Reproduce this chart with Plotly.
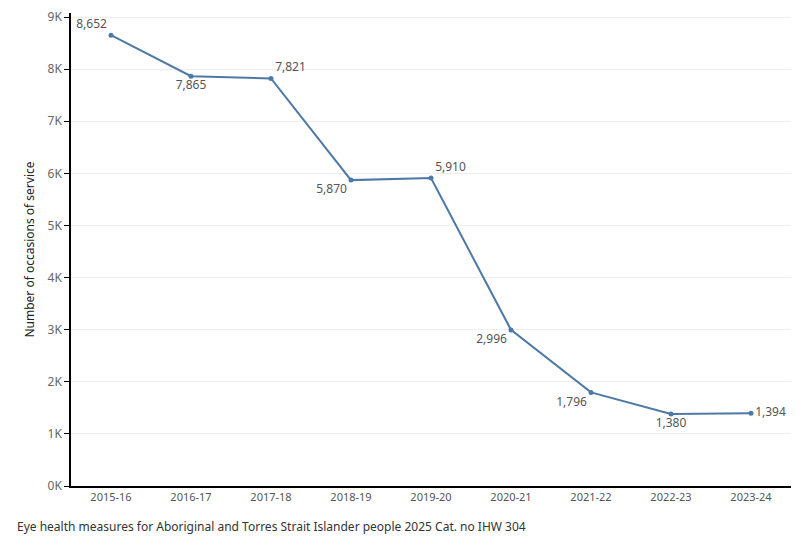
import plotly.graph_objects as go

years = ["2015-16", "2016-17", "2017-18", "2018-19", "2019-20",
         "2020-21", "2021-22", "2022-23", "2023-24"]
occasions = [8652, 7865, 7821, 5870, 5910, 2996, 1796, 1380, 1394]
label_pos = ["top left", "bottom center", "top right", "bottom left", "top right",
             "bottom left", "bottom left", "bottom center", "middle right"]
y_ticks = [0, 1000, 2000, 3000, 4000, 5000, 6000, 7000, 8000, 9000]
y_tick_text = ["0K", "1K", "2K", "3K", "4K", "5K", "6K", "7K", "8K", "9K"]

FONT = "Noto Sans"

fig = go.Figure()
fig.add_trace(go.Scatter(
    x=years, y=occasions,
    mode="lines+markers+text",
    line=dict(color="#4e79a7", width=2),
    marker=dict(color="#4e79a7", size=5),
    text=[f"{v:,}" for v in occasions],
    textposition=label_pos,
    textfont=dict(family=FONT, size=12, color="#555555"),
    hoverinfo="x+y",
    cliponaxis=False,
))

fig.update_layout(
    width=800, height=550,
    margin=dict(l=71, r=9, t=13, b=64),
    plot_bgcolor="white", paper_bgcolor="white",
    showlegend=False,
    font=dict(family=FONT, size=12, color="#666666"),
    xaxis=dict(
        type="category",
        showline=True, linecolor="black", linewidth=1.5,
        showgrid=False,
        ticks="", tickfont=dict(size=11, color="#555555"),
        range=[-0.5, 8.5],
    ),
    yaxis=dict(
        range=[0, 9077],
        tickvals=y_ticks, ticktext=y_tick_text,
        showline=True, linecolor="black", linewidth=1.5,
        showgrid=True, gridcolor="#eeeeee", gridwidth=1,
        ticks="outside", ticklen=5, tickcolor="black",
        tickfont=dict(size=12, color="#666666"),
        zeroline=False,
        title=dict(text="Number of occasions of service",
                   font=dict(size=12, color="#222222"), standoff=10),
    ),
    annotations=[dict(
        text="Eye health measures for Aboriginal and Torres Strait Islander people 2025 Cat. no IHW 304",
        xref="paper", yref="paper", x=-71/720, y=-30/473,
        xanchor="left", yanchor="top", showarrow=False,
        xshift=15,
        font=dict(family=FONT, size=12, color="#333333"),
    )],
)

fig.write_html("out.html")
